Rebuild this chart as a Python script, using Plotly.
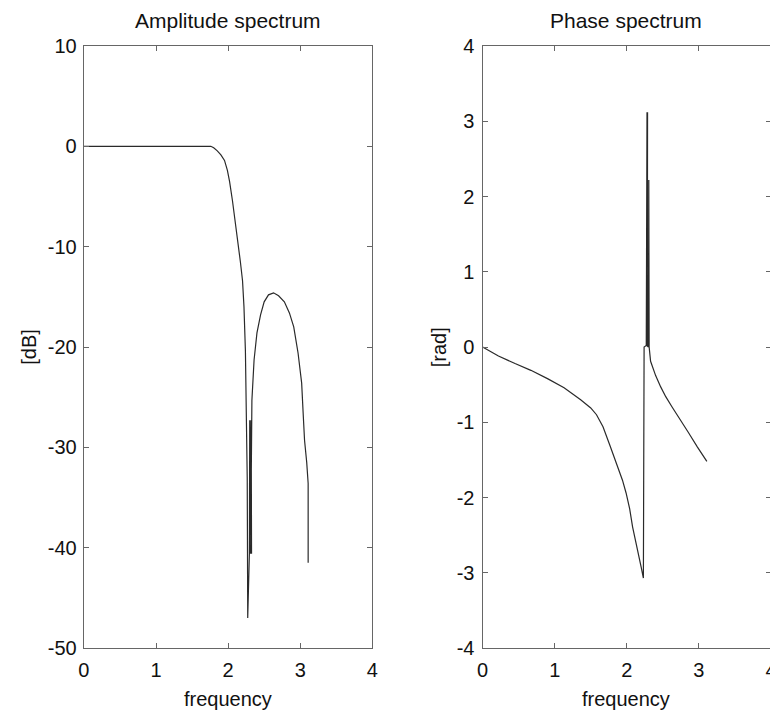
import plotly.graph_objects as go

# ---- data ----
amp_freq = [0.0, 0.5, 1.0, 1.5, 1.76, 1.80, 1.85, 1.90, 1.95, 1.99, 2.02, 2.06, 2.10,
            2.13, 2.17, 2.20, 2.22, 2.24, 2.255, 2.265, 2.272,
            2.295, 2.300, 2.305, 2.310, 2.315, 2.320, 2.325, 2.318, 2.312,
            2.33, 2.36, 2.40, 2.45, 2.50, 2.56, 2.63, 2.70, 2.78, 2.85, 2.91,
            2.97, 3.02, 3.04, 3.06, 3.09, 3.11, 3.11]
amp_db = [0.0, 0.0, 0.0, 0.0, 0.0, -0.15, -0.45, -0.85, -1.4, -2.4, -3.5, -5.4, -7.5,
          -9.4, -11.5, -13.4, -16.0, -20.4, -26.0, -33.0, -47.0,
          -40.6, -27.3, -40.6, -27.3, -40.6, -27.3, -40.6, -27.3, -40.6,
          -25.3, -21.3, -18.6, -16.8, -15.5, -14.8, -14.6, -14.9, -15.5, -16.6, -18.0,
          -20.6, -23.6, -26.5, -29.3, -31.5, -33.6, -41.5]

ph_freq = [0.0, 0.22, 0.45, 0.67, 0.90, 1.13, 1.36, 1.50, 1.58, 1.67, 1.77, 1.88,
           1.94, 1.99, 2.04, 2.08, 2.13, 2.17, 2.20, 2.23,
           2.24, 2.27,
           2.272, 2.276, 2.280, 2.284, 2.288, 2.292, 2.288, 2.284, 2.280, 2.276,
           2.30, 2.305, 2.31, 2.33, 2.40, 2.47, 2.54, 2.63, 2.72, 2.85, 2.98, 3.11]
ph_rad = [0.0, -0.12, -0.22, -0.31, -0.42, -0.54, -0.70, -0.81, -0.90, -1.06, -1.32, -1.61,
          -1.77, -1.94, -2.15, -2.39, -2.60, -2.79, -2.93, -3.07,
          0.0, 0.02,
          3.12, 0.02, 3.12, 0.02, 3.12, 0.02, 3.12, 0.02, 3.12, 0.02,
          0.0, 2.22, 0.0, -0.19, -0.38, -0.53, -0.66, -0.80, -0.93, -1.13, -1.33, -1.52]

x_ticks = [0, 1, 2, 3, 4]
x_ticktext = ["0", "1", "2", "3", "4"]
amp_ticks = [10, 0, -10, -20, -30, -40, -50]
amp_ticktext = ["10", "0", "-10", "-20", "-30", "-40", "-50"]
ph_ticks = [4, 3, 2, 1, 0, -1, -2, -3, -4]
ph_ticktext = ["4", "3", "2", "1", "0", "-1", "-2", "-3", "-4"]

# browser adds an 8px body margin; work in page pixels and subtract it
OFF = 8
W, H = 778 - OFF, 715 - OFF
FONT = "Liberation Sans, Arial, sans-serif"
TXT = "#111111"
FRAME = "#666666"
LINE = "#2a2a2a"

TOP, BOT = 46 - OFF, 648 - OFF


def fx(page_x):
    return (page_x - OFF) / W


def fy(page_y):
    return (BOT - (page_y - OFF)) / (BOT - TOP)


fig = go.Figure()
fig.add_trace(go.Scatter(x=amp_freq, y=amp_db, mode="lines",
                         line=dict(color=LINE, width=1.2), xaxis="x", yaxis="y",
                         showlegend=False))
fig.add_trace(go.Scatter(x=ph_freq, y=ph_rad, mode="lines",
                         line=dict(color=LINE, width=1.2), xaxis="x2", yaxis="y2",
                         showlegend=False))

axis_common = dict(showline=True, linecolor=FRAME, linewidth=1.3, mirror="ticks",
                   ticks="inside", ticklen=5, tickcolor=FRAME, tickwidth=1,
                   showgrid=False, zeroline=False,
                   tickfont=dict(family=FONT, size=20, color=TXT))

fig.update_layout(
    width=W, height=H,
    margin=dict(l=0, r=0, t=TOP, b=H - BOT),
    paper_bgcolor="white", plot_bgcolor="white",
    xaxis=dict(domain=[fx(79), fx(372)], range=[0, 4], tickvals=x_ticks,
               ticktext=x_ticktext, ticklabelstandoff=4, anchor="y", **axis_common),
    yaxis=dict(domain=[0, 1], range=[-50, 10], tickvals=amp_ticks,
               ticktext=amp_ticktext, ticklabelstandoff=2, anchor="x", **axis_common),
    xaxis2=dict(domain=[fx(484), fx(777)], range=[0, 4], tickvals=x_ticks,
                ticktext=x_ticktext, ticklabelstandoff=4, anchor="y2", **axis_common),
    yaxis2=dict(domain=[0, 1], range=[-4, 4], tickvals=ph_ticks,
                ticktext=ph_ticktext, ticklabelstandoff=3, anchor="x2", **axis_common),
)

ann = [
    dict(text="Amplitude spectrum", x=fx(225.5), y=fy(20), size=21),
    dict(text="Phase spectrum", x=fx(630), y=fy(20), size=21),
    dict(text="frequency", x=fx(225.5), y=fy(699), size=20),
    dict(text="frequency", x=fx(630), y=fy(699), size=20),
    dict(text="[dB]", x=fx(23), y=fy(347), size=20, textangle=-90),
    dict(text="[rad]", x=fx(440), y=fy(347), size=20, textangle=-90),
]
for a in ann:
    size = a.pop("size")
    fig.add_annotation(xref="paper", yref="paper", showarrow=False,
                       xanchor="center", yanchor="middle",
                       font=dict(family=FONT, size=size, color=TXT), **a)

fig.write_html("out.html")
